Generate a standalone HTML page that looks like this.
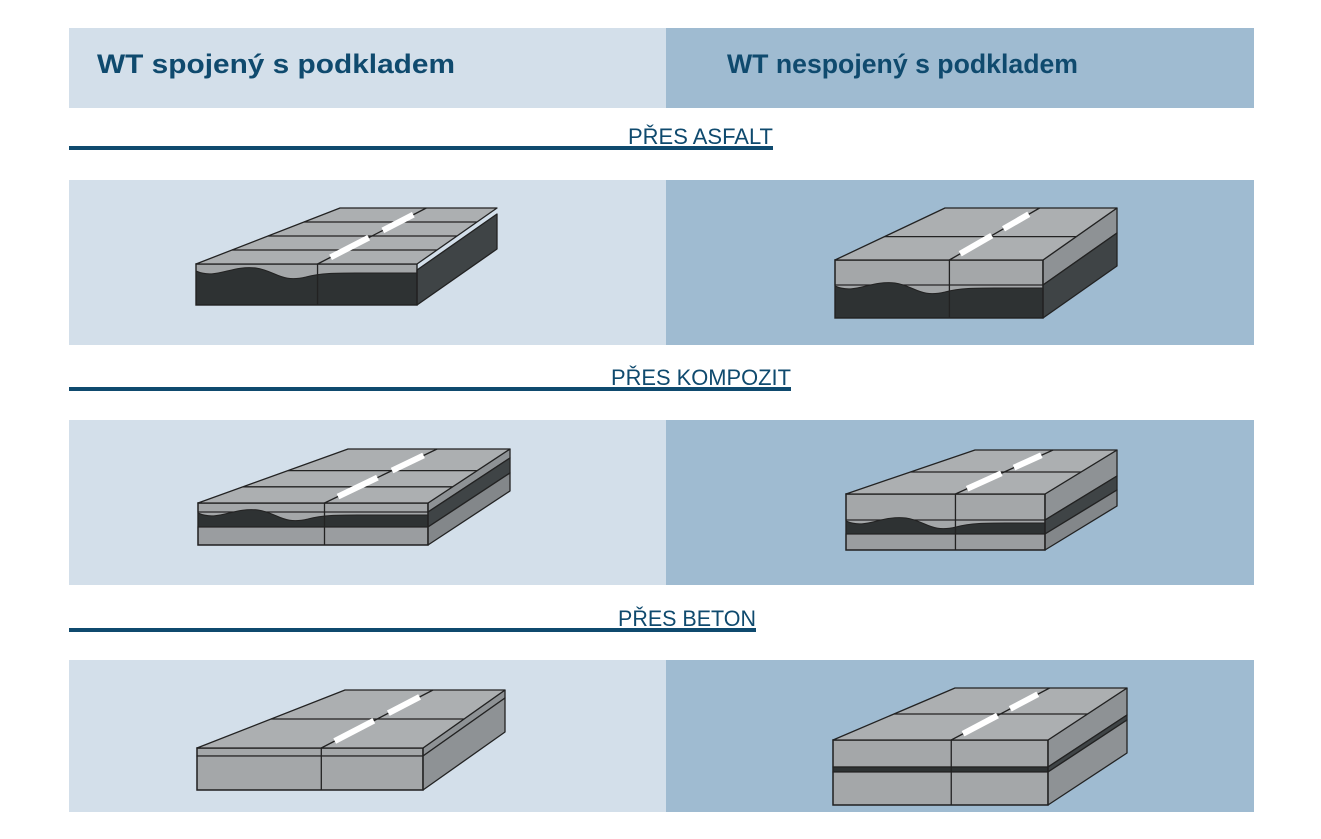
<!DOCTYPE html>
<html><head><meta charset="utf-8"><style>
html,body{margin:0;padding:0;background:#fff;}
svg{display:block;}
text{font-family:"Liberation Sans",Arial,sans-serif;}
</style></head><body>
<svg id="s" width="1321" height="839" viewBox="0 0 1321 839" xmlns="http://www.w3.org/2000/svg">
<rect x="0" y="0" width="1321" height="839" fill="#fff"/>
<rect x="69" y="28" width="597" height="80" fill="#d3dfea"/>
<rect x="666" y="28" width="588" height="80" fill="#9fbbd1"/>
<text x="97" y="73" font-size="27" font-weight="bold" fill="#0f4a6e" textLength="358" lengthAdjust="spacingAndGlyphs">WT spojený  s podkladem</text>
<text x="727" y="73" font-size="27" font-weight="bold" fill="#0f4a6e" textLength="351" lengthAdjust="spacingAndGlyphs">WT nespojený  s podkladem</text>

<rect x="69" y="146" width="704" height="4" fill="#0f4a6e"/>
<text x="628" y="144" font-size="22" fill="#0f4a6e" textLength="145" lengthAdjust="spacingAndGlyphs">PŘES ASFALT</text>
<rect x="69" y="387" width="722" height="4" fill="#0f4a6e"/>
<text x="611" y="385" font-size="22" fill="#0f4a6e" textLength="180" lengthAdjust="spacingAndGlyphs">PŘES KOMPOZIT</text>
<rect x="69" y="628" width="687" height="4" fill="#0f4a6e"/>
<text x="618" y="626" font-size="22" fill="#0f4a6e" textLength="138" lengthAdjust="spacingAndGlyphs">PŘES BETON</text>

<rect x="69" y="180" width="597" height="165" fill="#d3dfea"/>
<rect x="666" y="180" width="588" height="165" fill="#9fbbd1"/>
<rect x="69" y="420" width="597" height="165" fill="#d3dfea"/>
<rect x="666" y="420" width="588" height="165" fill="#9fbbd1"/>
<rect x="69" y="660" width="597" height="152" fill="#d3dfea"/>
<rect x="666" y="660" width="588" height="152" fill="#9fbbd1"/>
<g id="g"></g>
</svg>
<script>
var g=document.getElementById('g'),out='';
function P(pts,fill){out+='<polygon points="'+pts.map(p=>p.join(',')).join(' ')+'" fill="'+fill+'" stroke="#222" stroke-width="1.3" stroke-linejoin="round"/>';}
function L(a,b,c,w){out+='<line x1="'+a[0]+'" y1="'+a[1]+'" x2="'+b[0]+'" y2="'+b[1]+'" stroke="'+(c||'#222')+'" stroke-width="'+(w||1.3)+'"/>';}
function lerp(a,b,t){return [a[0]+(b[0]-a[0])*t,a[1]+(b[1]-a[1])*t];}
var SIDE={'#a4a7a9':'#8e9295','#2e3233':'#3f4446','#9a9da0':'#83878a'};
function slab(fx1,fx2,ft,fb,bx1,bx2,bt,layers,rows,vfrac){
  var dx=bx2-fx2,dy=bt-ft;
  var A=[fx1,ft],B=[fx2,ft],C=[bx2,bt],D=[bx1,bt];
  out+='<rect x="'+fx1+'" y="'+ft+'" width="'+(fx2-fx1)+'" height="'+(fb-ft)+'" fill="#a4a7a9"/>';
  layers.forEach(function(l){
    var y0=l[0],y1=l[1],col=l[2];
    if(l[3]){
      var pth='M'+fx1+','+(y0+1)+' C'+(fx1+20)+','+(y0+10)+' '+(fx1+35)+','+(y0-5)+' '+(fx1+60)+','+(y0-2)+' C'+(fx1+80)+','+(y0+1)+' '+(fx1+85)+','+(y0+13)+' '+(fx1+110)+','+(y0+7)+' C'+(fx1+125)+','+(y0+3)+' '+(fx1+140)+','+(y0+3)+' '+(fx1+160)+','+(y0+3)+' L'+fx2+','+(y0+3)+' L'+fx2+','+y1+' L'+fx1+','+y1+' Z';
      out+='<path d="'+pth+'" fill="'+col+'" stroke="#222" stroke-width="1"/>';
    } else {
      out+='<rect x="'+fx1+'" y="'+y0+'" width="'+(fx2-fx1)+'" height="'+(y1-y0)+'" fill="'+col+'" stroke="#222" stroke-width="1.2"/>';
    }
    P([[fx2,y0],[fx2+dx,y0+dy],[fx2+dx,y1+dy],[fx2,y1]],SIDE[col]||'#555');
  });
  out+='<rect x="'+fx1+'" y="'+ft+'" width="'+(fx2-fx1)+'" height="'+(fb-ft)+'" fill="none" stroke="#222" stroke-width="1.4"/>';
  P([A,B,C,D],'#acafb1');
  rows.forEach(function(t){L(lerp(A,D,t),lerp(B,C,t));});
  var vm=vfrac||0.5;
  var F=lerp(A,B,vm),K=lerp(D,C,vm);
  L(F,K);
  L(lerp(F,K,0.12),lerp(F,K,0.47),'#fff',6);
  L(lerp(F,K,0.6),lerp(F,K,0.88),'#fff',6);
  L([F[0],ft],[F[0],fb]);
}
slab(196,417,264,305,340,497,208,[[270,305,'#2e3233',true]],[0.25,0.5,0.75],0.55);
slab(835,1043,260,318,945,1117,208,[[260,285,'#a4a7a9'],[285,318,'#2e3233',true]],[0.45],0.55);
slab(198,428,503,545,348,510,449,[[503,512,'#a4a7a9'],[512,527,'#2e3233',true],[527,545,'#9a9da0']],[0.3,0.6],0.55);
slab(846,1045,494,550,975,1117,450,[[494,520,'#a4a7a9'],[520,534,'#2e3233',true],[534,550,'#9a9da0']],[0.5],0.55);
slab(197,423,748,790,345,505,690,[[748,756,'#a4a7a9'],[756,790,'#a4a7a9']],[0.5],0.55);
slab(833,1048,740,805,955,1127,688,[[740,767,'#a4a7a9'],[767,772,'#2e3233'],[772,805,'#a4a7a9']],[0.5],0.55);
g.innerHTML=out;
</script>
</body></html>
